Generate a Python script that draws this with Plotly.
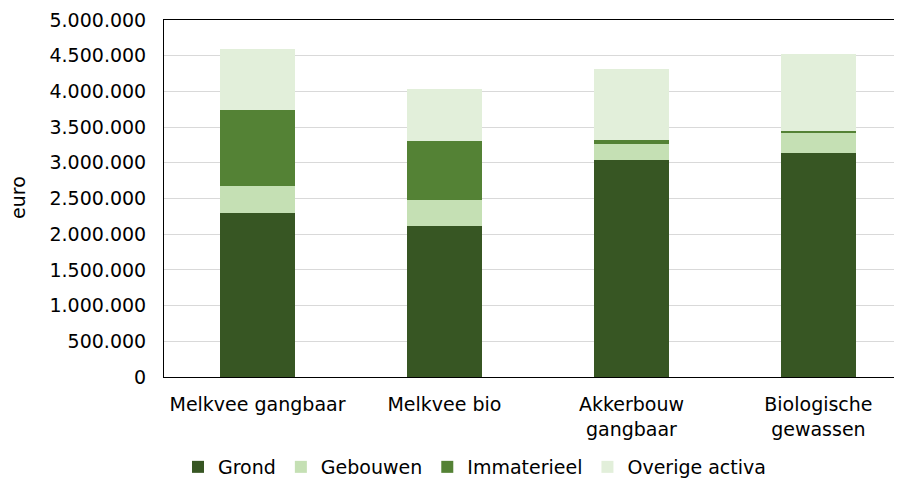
import plotly.graph_objects as go

categories = ["Melkvee gangbaar", "Melkvee bio", "Akkerbouw<br>gangbaar", "Biologische<br>gewassen"]
grond = [2300000, 2120000, 3035000, 3140000]
gebouwen = [375000, 360000, 225000, 290000]
immaterieel = [1060000, 825000, 55000, 20000]
overige = [860000, 730000, 1000000, 1075000]
tick_vals = [0, 500000, 1000000, 1500000, 2000000, 2500000, 3000000, 3500000, 4000000, 4500000, 5000000]

series = [
    ("Grond", grond, "#375623"),
    ("Gebouwen", gebouwen, "#C5E0B4"),
    ("Immaterieel", immaterieel, "#548235"),
    ("Overige activa", overige, "#E2EFDA"),
]

fig = go.Figure()
for name, vals, col in series:
    fig.add_trace(go.Bar(x=categories, y=vals, name=name,
                         marker=dict(color=col, line=dict(width=0))))

# page body has an 8px margin, so the figure origin sits at (8, 8) in the window
font = "DejaVu Sans, Verdana, sans-serif"
fig.update_layout(
    barmode="stack",
    bargap=0.6,
    width=894, height=471,
    margin=dict(l=156, r=0, t=12, b=102, autoexpand=False),
    paper_bgcolor="white", plot_bgcolor="white",
    separators=",.",
    font=dict(family=font, size=19, color="#000000"),
    showlegend=True,
    legend=dict(orientation="h", x=(178 - 164) / 738, xanchor="left", y=(377 - 467) / 357,
                yanchor="middle", font=dict(size=19), traceorder="normal"),
    xaxis=dict(range=[-0.5, 3.447], showline=True, linecolor="black", linewidth=1,
               mirror=True, ticks="", showgrid=False, automargin=False,
               ticklabelstandoff=10, tickfont=dict(size=19)),
    yaxis=dict(range=[0, 5000000], tickvals=tick_vals, tickformat=",.0f",
               showline=True, linecolor="black", linewidth=1,
               gridcolor="#D9D9D9", gridwidth=1, zeroline=False, automargin=False,
               ticks="", ticklabelstandoff=13, tickfont=dict(size=19)),
    annotations=[dict(text="euro", xref="paper", yref="paper",
                      x=(18 - 164) / 738, y=(377 - 198) / 357,
                      xanchor="center", yanchor="middle", textangle=-90,
                      showarrow=False, font=dict(size=19))],
)

fig.write_html("out.html")
